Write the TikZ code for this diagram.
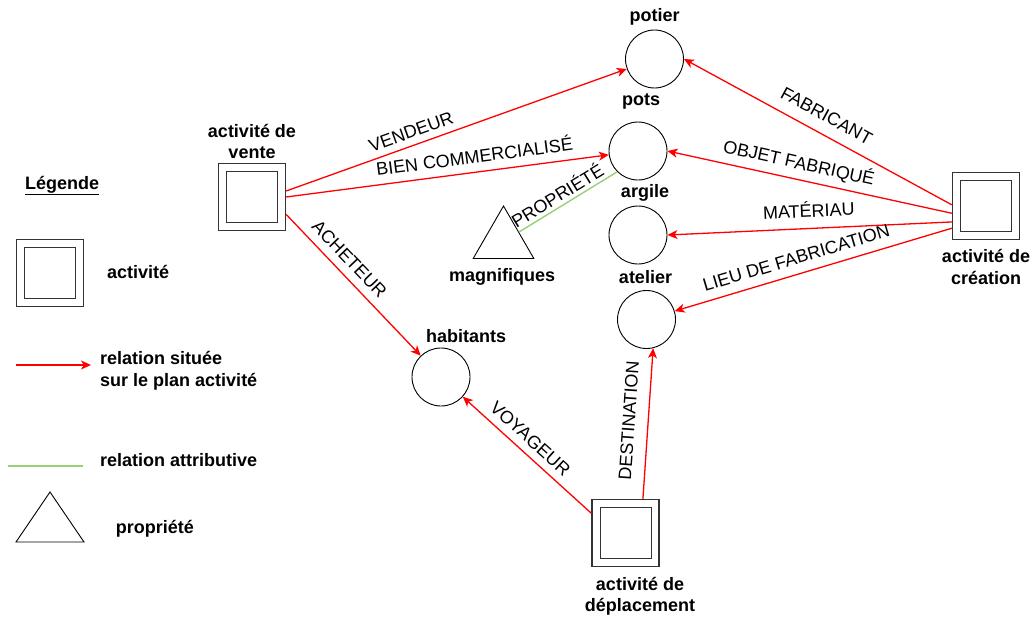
\documentclass[tikz,border=0pt]{standalone}
\usepackage{fontspec}
\setmainfont{Liberation Sans}
\usetikzlibrary{arrows.meta,shapes.geometric}
\definecolor{relred}{HTML}{FF0000}
\definecolor{attgreen}{HTML}{97D077}
\definecolor{boxgray}{HTML}{333333}
\begin{document}
\begin{tikzpicture}[x=1pt,y=-1pt,
  ent/.style={circle, draw=black, line width=0.9pt, minimum size=58pt, inner sep=0pt},
  actbox/.style={rectangle, draw=boxgray, line width=1.4pt, minimum size=67pt, inner sep=0pt},
  actin/.style={rectangle, draw=boxgray, line width=1pt, minimum size=51pt, inner sep=0pt},
  propshape/.style={regular polygon, regular polygon sides=3, draw=black, line width=0.9pt, minimum size=70pt, inner sep=0pt},
  rel/.style={draw=relred, line width=1.3pt, -{Stealth[length=10pt,width=9pt,inset=2.8pt]}},
  attr/.style={draw=attgreen, line width=1.4pt},
  nlbl/.style={font=\bfseries\fontsize{18}{21.5}\selectfont, inner sep=0pt, anchor=base},
  lgtxt/.style={font=\bfseries\fontsize{18}{21.5}\selectfont, inner sep=0pt, anchor=base west},
  elbl/.style={font=\fontsize{18}{21.5}\selectfont, sloped, inner sep=3.33pt}
]
\useasboundingbox (0,0) rectangle (1032,618);

% entities
\node[ent] (potier) at (654.5,59) {};
\node[ent] (pots) at (638,151) {};
\node[ent] (argile) at (638,235) {};
\node[ent] (atelier) at (646.5,319.5) {};
\node[ent] (habitants) at (441,377) {};
\node[propshape] (magn) at (503.5,241) {};

% activities
\node[actbox] (vente) at (252,197) {};
\node[actin] (vente-in) at (252,197) {};
\node[actbox] (creation) at (986,206) {};
\node[actin] (creation-in) at (986,206) {};
\node[actbox] (deplacement) at (625.5,533) {};
\node[actin] (deplacement-in) at (625.5,533) {};

% labels of nodes
\node[nlbl] (potier-l) at (654.5,22) {potier};
\node[nlbl] (pots-l) at (641,105) {pots};
\node[nlbl] (argile-l) at (645,197) {argile};
\node[nlbl] (atelier-l) at (645.5,283) {atelier};
\node[nlbl] (habitants-l) at (466,342) {habitants};
\node[nlbl] (magn-l) at (502,281) {magnifiques};
\node[nlbl] (vente-l1) at (252,137) {activité de};
\node[nlbl] (vente-l2) at (252,158.5) {vente};
\node[nlbl] (creation-l1) at (986,262) {activité de};
\node[nlbl] (creation-l2) at (986,284) {création};
\node[nlbl] (deplacement-l1) at (640,590) {activité de};
\node[nlbl] (deplacement-l2) at (640,611) {déplacement};

% relations
\draw[rel] (vente.10) -- node[elbl, pos=0.38, above=3.4pt] {VENDEUR} (potier);
\draw[rel] (vente.east) -- node[elbl, pos=0.59, above=5pt] {BIEN COMMERCIALISÉ} (pots);
\draw[rel] (vente.-27) -- node[elbl, pos=0.39, above=4.7pt] {ACHETEUR} (habitants);
\draw[rel] (creation.178) -- node[elbl, pos=0.5, above=8pt] {FABRICANT} (potier.east);
\draw[rel] (creation.192) -- node[elbl, pos=0.55, above=3pt] {OBJET FABRIQUÉ} (pots.east);
\draw[rel] (creation.205) -- node[elbl, pos=0.5, above=7pt] {MATÉRIAU} (argile.east);
\draw[rel] (creation.213) -- node[elbl, pos=0.545, above=5.7pt] {LIEU DE FABRICATION} (atelier);
\draw[rel] (deplacement.150) -- node[elbl, pos=0.55, above=4pt] {VOYAGEUR} (habitants);
\draw[rel] (deplacement.63) -- node[elbl, pos=0.51, above=9pt] {DESTINATION} (atelier.-77);
\draw[attr] (magn.side 3) -- node[elbl, pos=0.45, above=0pt] {PROPRIÉTÉ} (pots.225);

% legend
\node[lgtxt] (leg-title) at (25,189.3) {\underline{Légende}};
\node[actbox] (leg-box) at (50,273) {};
\node[actin] (leg-box-in) at (50,273) {};
\node[lgtxt] (leg-act) at (107,278) {activité};
\coordinate (lr1) at (16,365);
\coordinate (lr2) at (91,365);
\draw[rel] (lr1) -- (lr2);
\node[lgtxt] (leg-rel1) at (100,364) {relation située};
\node[lgtxt] (leg-rel2) at (100,386) {sur le plan activité};
\coordinate (lg1) at (8,466);
\coordinate (lg2) at (83,466);
\draw[attr] (lg1) -- (lg2);
\node[lgtxt] (leg-attr) at (100,466.7) {relation attributive};
\draw[line width=0.9pt] (16,542) -- (50,492) -- (84,542) -- cycle;
\node[lgtxt] (leg-prop) at (115.7,533) {propriété};
\end{tikzpicture}
\end{document}
